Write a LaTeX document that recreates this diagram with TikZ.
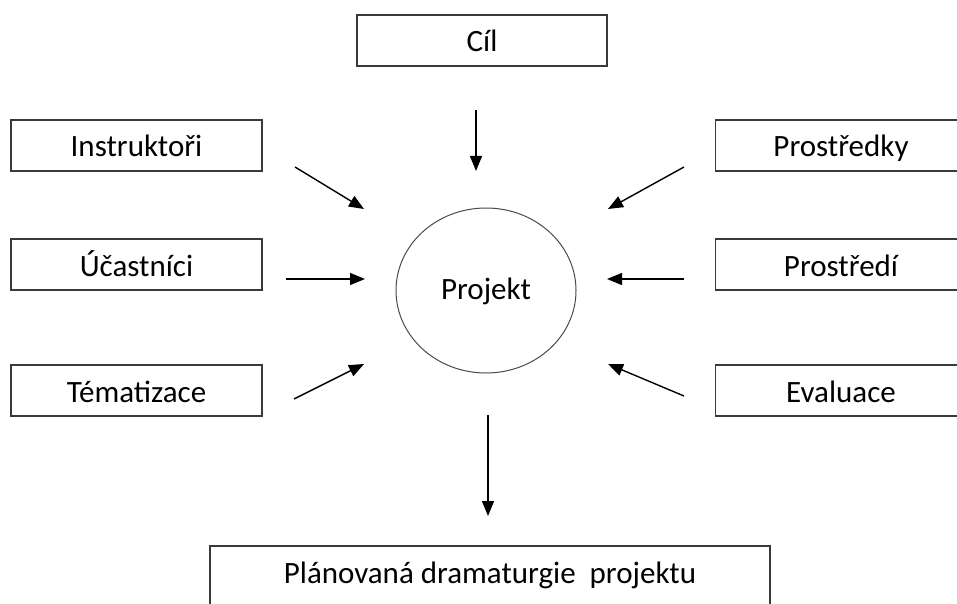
\documentclass[tikz,border=0pt]{standalone}
\usepackage{fontspec}
\setmainfont{Carlito}
\usetikzlibrary{arrows.meta,shapes.geometric}
\definecolor{boxgray}{HTML}{3A3A3A}
\definecolor{circgray}{HTML}{4A4A4A}
\begin{document}
\begin{tikzpicture}[x=1pt,y=-1pt,
  lbl/.style={font=\fontsize{31}{36}\selectfont, text=black},
  box/.style={lbl, draw=boxgray, line width=1.3pt, minimum width=251pt, minimum height=51pt, inner sep=0pt, text height=25pt, text depth=2pt},
  arr/.style={line width=1.4pt, draw=black, -{Triangle[length=15pt,width=12pt]}}]
\useasboundingbox (0,0) rectangle (957,604);
\clip (0,0) rectangle (957,604);
% nodes
\node[box, minimum width=250pt] (cil) at (482,40.5) {Cíl};
\node[box] (instr) at (136.5,145.5) {Instruktoři};
\node[box] (ucast) at (136.5,264.5) {Účastníci};
\node[box] (tema) at (136.5,390.5) {Tématizace};
\node[box] (prostredky) at (841,145.5) {Prostředky};
\node[box] (prostredi) at (841,264.5) {Prostředí};
\node[box] (eval) at (841,390.5) {Evaluace};
\node[lbl, draw=circgray, line width=1pt, ellipse, minimum width=180pt, minimum height=165pt, inner sep=0pt, text height=22pt, text depth=5pt] (projekt) at (486,290.5) {Projekt};
\node[box, minimum width=560pt, minimum height=64pt, text depth=15pt] (plan) at (490,578) {Plánovaná dramaturgie\ \ projektu};
% arrow end points
\coordinate (cilS) at (476,110);  \coordinate (cilE) at (476,171);
\coordinate (insS) at (295,167);  \coordinate (insE) at (364,209);
\coordinate (ucaS) at (286,279);  \coordinate (ucaE) at (365,279);
\coordinate (temS) at (294,399);  \coordinate (temE) at (364,364);
\coordinate (pkyS) at (684,167);  \coordinate (pkyE) at (608,209);
\coordinate (pdiS) at (684,279);  \coordinate (pdiE) at (607,279);
\coordinate (evaS) at (684,396);  \coordinate (evaE) at (608,364);
\coordinate (proS) at (488,415);  \coordinate (proE) at (488,516);
% arrows
\draw[arr] (cilS) -- (cilE);
\draw[arr] (insS) -- (insE);
\draw[arr] (ucaS) -- (ucaE);
\draw[arr] (temS) -- (temE);
\draw[arr] (pkyS) -- (pkyE);
\draw[arr] (pdiS) -- (pdiE);
\draw[arr] (evaS) -- (evaE);
\draw[arr] (proS) -- (proE);
\end{tikzpicture}
\end{document}
